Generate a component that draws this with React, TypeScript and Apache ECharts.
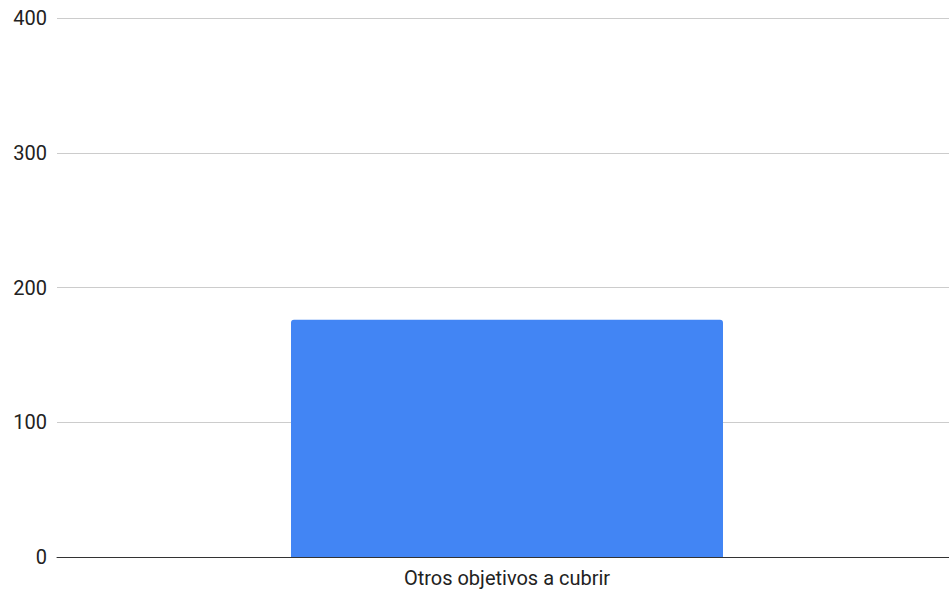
import React, { useEffect, useRef } from "react";
import * as echarts from "echarts";

const categories = ["Otros objetivos a cubrir"];
const values = [176];
const yTicks = { min: 0, max: 400, interval: 100 };

export default function App() {
  const ref = useRef<HTMLDivElement>(null);
  useEffect(() => {
    if (!ref.current) return;
    const chart = echarts.init(ref.current, undefined, { renderer: "svg" });
    chart.setOption({
      animation: false,
      backgroundColor: "#ffffff",
      grid: { left: 57, width: 900, top: 18, bottom: 35, containLabel: false },
      xAxis: {
        type: "category",
        data: categories,
        axisLine: { lineStyle: { color: "#333333", width: 1 } },
        axisTick: { show: false },
        axisLabel: { color: "#222222", fontFamily: "Roboto", fontSize: 20, margin: 11 },
      },
      yAxis: {
        type: "value",
        min: yTicks.min,
        max: yTicks.max,
        interval: yTicks.interval,
        axisLine: { show: false },
        axisTick: { show: false },
        axisLabel: { color: "#222222", fontFamily: "Roboto", fontSize: 20, margin: 10 },
        splitLine: { lineStyle: { color: "#cccccc", width: 1 } },
      },
      series: [
        {
          type: "bar",
          data: values,
          barWidth: "48%",
          itemStyle: { color: "#4285F4", borderRadius: [3, 3, 0, 0] },
        },
      ],
    });
    return () => chart.dispose();
  }, []);
  return (
    <div style={{ position: "fixed", left: 0, top: 0, width: 949, height: 592, overflow: "hidden" }}>
      <div ref={ref} style={{ width: 957, height: 592 }} />
    </div>
  );
}
